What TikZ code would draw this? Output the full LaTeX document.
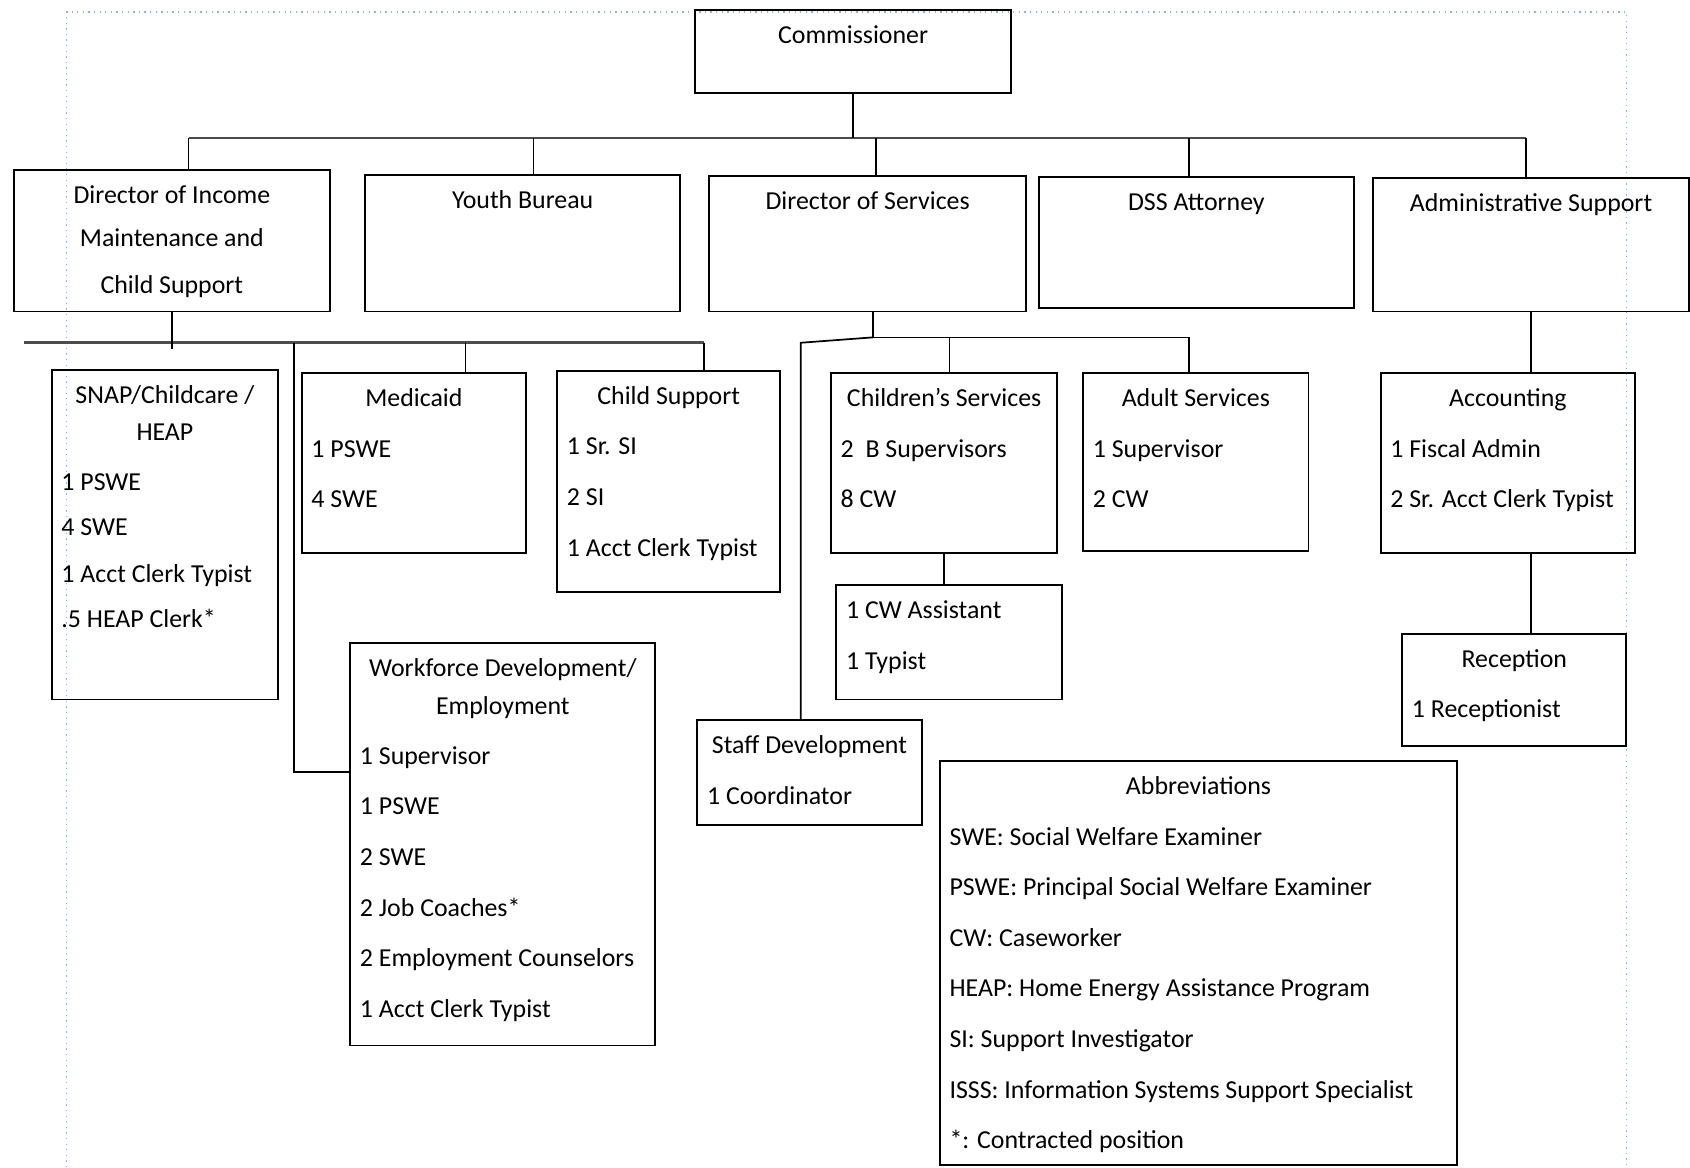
\documentclass[tikz,border=0pt]{standalone}
\usepackage{fontspec}
\setmainfont{Carlito}
\usepackage{tikz}
\usetikzlibrary{calc}
\definecolor{frameblue}{RGB}{140,180,230}
\newlength{\orgpx}
\setlength{\orgpx}{0.5pt}
\newcommand{\unittitle}[1]{\hspace*{-4.5pt}\makebox[\linewidth][c]{#1}}
\tikzset{
	org chart/.style={
		x=0.5pt, y=-0.5pt,
		line width=0.9pt,
		wire/.style={draw, line width=0.8pt},
		bus/.style={draw, line width=1.3pt, black!70},
		frame/.style={draw=frameblue, line width=0.6pt, dotted}},
	unit/.style 2 args={
		draw, anchor=north west, inner sep=0pt, outer sep=0pt,
		execute at begin node={\begin{minipage}[t][#2\orgpx][t]{#1\orgpx}
			\fontsize{12pt}{23.5pt}\selectfont\raggedright\leftskip=4.5pt\rule{0pt}{15.5pt}},
		execute at end node={\end{minipage}}}
}

\begin{document}
\begin{tikzpicture}[org chart]
   \useasboundingbox (0,0) rectangle (1568,1083);
   \draw[frame] (62,1083) -- (62,11) -- (1509,11) -- (1509,1083);

   \node[unit={293}{77}] (comm) at (645,9) {\unittitle{Commissioner}};
   \node[unit={293}{131}] (income) at (13,158)
      {\unittitle{Director of Income}\\[-3.5pt]\unittitle{Maintenance and}\\[-2pt]\unittitle{Child Support}};
   \node[unit={292}{127}] (youth) at (339,162) {\unittitle{Youth Bureau}};
   \node[unit={294}{126}] (dirsvc) at (658,163) {\unittitle{Director of Services}};
   \node[unit={292}{122}] (attorney) at (964,164) {\unittitle{DSS Attorney}};
   \node[unit={293}{124}] (admin) at (1274,165) {\unittitle{Administrative Support}};

   \node[unit={210}{306}] (snap) at (48,343)
      {\unittitle{SNAP/Childcare /}\\[-6pt]\unittitle{HEAP}\\[-0.5pt]1 PSWE\\[-2.5pt]4 SWE\\[-2pt]1 Acct Clerk Typist\\[-2.5pt].5 HEAP Clerk*};
   \node[unit={208}{167}] (medicaid) at (280,346) {\unittitle{Medicaid}\\1 PSWE\\4 SWE};
   \node[unit={207}{205}] (childsup) at (517,344)
      {\unittitle{Child Support}\\1 Sr. SI\\2 SI\\1 Acct Clerk Typist};
   \node[unit={283}{373}] (wfd) at (325,597)
      {\unittitle{Workforce Development/}\\[-6pt]\unittitle{Employment}\\[-0.5pt]1 Supervisor\\1 PSWE\\2 SWE\\2 Job Coaches*\\2 Employment Counselors\\1 Acct Clerk Typist};
   \node[unit={210}{167}] (children) at (771,346) {\unittitle{Children’s Services}\\2~ B Supervisors\\8 CW};
   \node[unit={209}{106}] (cwa) at (776,543) {1 CW Assistant\\1 Typist};
   \node[unit={209}{165}] (adult) at (1005,346) {\unittitle{Adult Services}\\1 Supervisor\\2 CW};
   \node[unit={208}{97}] (staff) at (647,668) {\unittitle{Staff Development}\\1 Coordinator};
   \node[unit={236}{167}] (accounting) at (1281,346)
      {\unittitle{Accounting}\\1 Fiscal Admin\\2 Sr. Acct Clerk Typist};
   \node[unit={208}{104}] (reception) at (1301,588) {\unittitle{Reception}\\1 Receptionist};
   \node[unit={480}{375}] (abbrev) at (872,706)
      {\unittitle{Abbreviations}\\SWE: Social Welfare Examiner\\PSWE: Principal Social Welfare Examiner\\CW: Caseworker\\HEAP: Home Energy Assistance Program\\SI: Support Investigator\\ISSS: Information Systems Support Specialist\\{*}: Contracted position};

   \path (175,128) coordinate (t1) (495,128) coordinate (t2) (813,128) coordinate (t3)
      (1103,128) coordinate (t4) (1416,128) coordinate (t5);
   \draw[bus] (t1) -- (t5);
   \draw[wire] (comm.south) -- (comm.south |- t1);
   \foreach \dx/\dn in {t1/income, t2/youth, t3/dirsvc, t4/attorney, t5/admin}
      \draw[wire] (\dx) -- (\dx |- \dn.north);

   \path (22,318) coordinate (i0) (273,318) coordinate (i1) (432,318) coordinate (i2)
      (653,318) coordinate (i3) (325,716) coordinate (wfd in);
   \draw[bus] (i0) -- (i3);
   \draw[wire] (income.south) -- ++(0,35);
   \draw[wire] (i2) -- (i2 |- medicaid.north);
   \draw[wire] (i3) -- (i3 |- childsup.north);
   \draw[wire] (i1) |- (wfd in);

   \path (810,313) coordinate (s0) (881,313) coordinate (s1) (1103,313) coordinate (s2)
      (743,318) coordinate (s3);
   \draw[wire] (dirsvc.south -| s0) -- (s0) -- (s2) -- (s2 |- adult.north);
   \draw[wire] (s1) -- (s1 |- children.north);
   \draw[wire] (s0) -- (s3) -- (s3 |- staff.north);
   \draw[wire] (children.south) -- (children.south |- cwa.north);

   \draw[wire] (admin.south) -- (admin.south |- accounting.north);
   \draw[wire] (admin.south |- accounting.south) -- (admin.south |- reception.north);
\end{tikzpicture}
\end{document}
